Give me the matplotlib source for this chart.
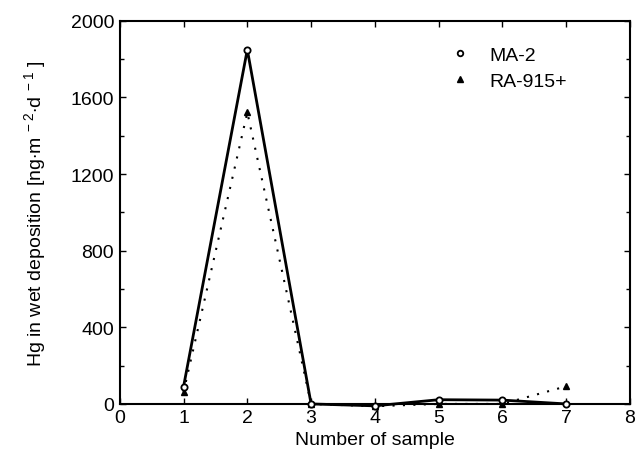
import matplotlib
matplotlib.use("Agg")
import matplotlib.pyplot as plt
from matplotlib.ticker import MultipleLocator
from matplotlib.lines import Line2D

plt.rcParams['font.family'] = ['Liberation Sans', 'DejaVu Sans']
plt.rcParams['mathtext.fontset'] = 'custom'
plt.rcParams['mathtext.rm'] = 'Liberation Sans'
plt.rcParams['mathtext.it'] = 'Liberation Sans'

samples = [1, 2, 3, 4, 5, 6, 7]
ma2 = [90, 1850, 0, -10, 22, 20, 0]
ra915 = [62, 1522, 0, -12, 0, 0, 92]

fig = plt.figure(figsize=(6.37, 4.56), dpi=100)
ax = fig.add_axes([0.188, 0.112, 0.801, 0.84])

ax.plot(samples, ma2, '-', color='black', lw=2, marker='o', ms=4.5,
        mfc='white', mec='black', mew=1.3, clip_on=False, zorder=3)
ax.plot(samples, ra915, color='black', lw=1.5, ls=(0, (1, 4)), marker='^', ms=5,
        mfc='black', mec='black', clip_on=False, zorder=2)

ax.set_xlim(0, 8)
ax.set_ylim(0, 2000)
ax.xaxis.set_major_locator(MultipleLocator(1))
ax.yaxis.set_major_locator(MultipleLocator(400))
ax.yaxis.set_minor_locator(MultipleLocator(200))
ax.tick_params(which='both', direction='in', top=True, right=True,
               labelsize=14, width=1)
ax.tick_params(which='major', length=4, pad=4)
ax.tick_params(which='minor', length=3)
for s in ax.spines.values():
    s.set_linewidth(1.5)

ax.set_xlabel('Number of sample', fontsize=14, labelpad=3)
ax.set_ylabel(r'Hg in wet deposition [ng$\cdot$m$^{\ -2}$$\cdot$d$^{\ -1}$ ]', fontsize=14,
              labelpad=16)

handles = [Line2D([], [], ls='none', marker='o', ms=4, mfc='white', mec='black', mew=1.3),
           Line2D([], [], ls='none', marker='^', ms=5, mfc='black', mec='black')]
ax.legend(handles, ['MA-2', 'RA-915+'], loc='upper right', bbox_to_anchor=(0.91, 0.98),
          frameon=False, fontsize=14, handletextpad=0.5, labelspacing=0.45)

fig.savefig('out.png', dpi=100)
